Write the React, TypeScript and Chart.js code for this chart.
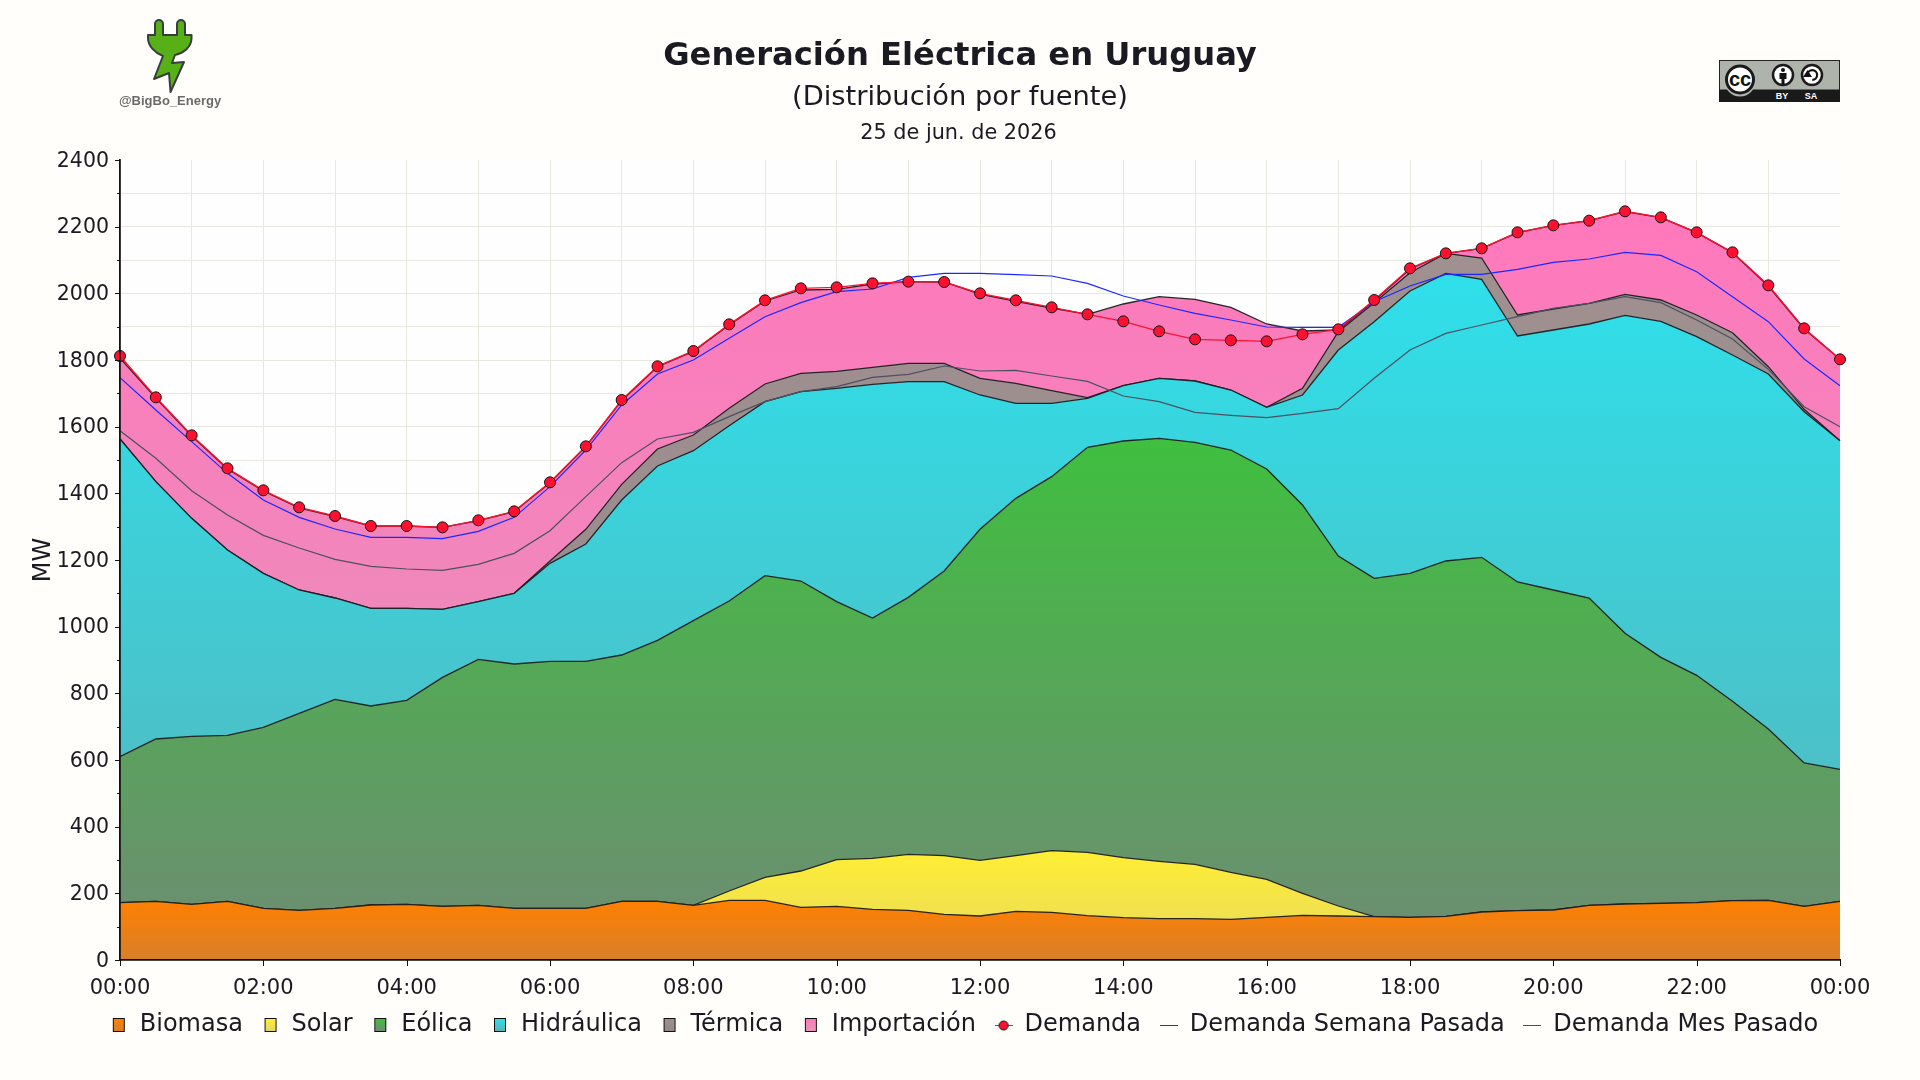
import { useEffect, useRef } from 'react';
import Chart from 'chart.js/auto';

// half-hour steps, 00:00 -> 00:00 of the next day
const hours = [
  '00:00', '00:30', '01:00', '01:30', '02:00', '02:30', '03:00', '03:30', '04:00', '04:30',
  '05:00', '05:30', '06:00', '06:30', '07:00', '07:30', '08:00', '08:30', '09:00', '09:30',
  '10:00', '10:30', '11:00', '11:30', '12:00', '12:30', '13:00', '13:30', '14:00', '14:30',
  '15:00', '15:30', '16:00', '16:30', '17:00', '17:30', '18:00', '18:30', '19:00', '19:30',
  '20:00', '20:30', '21:00', '21:30', '22:00', '22:30', '23:00', '23:30', '00:00',
];

// The area series are read as the height of each band's upper edge (MW)
const biomasa = [172, 176, 167, 176, 155, 149, 155, 165, 167, 161, 164, 155, 155, 155, 176, 176, 164, 179, 179, 158, 161, 152, 149, 137, 132, 146, 143, 133, 127, 124, 124, 122, 128, 134, 132, 130, 128, 131, 144, 148, 150, 164, 168, 170, 172, 178, 179, 161, 176];
const solar = [172, 176, 167, 176, 155, 149, 155, 165, 167, 161, 164, 155, 155, 155, 176, 176, 164, 207, 248, 267, 301, 305, 317, 313, 299, 313, 328, 323, 307, 296, 287, 263, 242, 200, 162, 130, 128, 131, 144, 148, 150, 164, 168, 170, 172, 178, 179, 161, 176];
const eolica = [610, 663, 671, 674, 698, 740, 782, 762, 779, 848, 902, 888, 896, 896, 915, 959, 1018, 1077, 1153, 1137, 1075, 1026, 1088, 1167, 1292, 1385, 1450, 1538, 1557, 1565, 1553, 1530, 1473, 1365, 1212, 1145, 1160, 1197, 1208, 1134, 1110, 1086, 980, 908, 854, 776, 693, 591, 572];
const hidraulica = [1563, 1435, 1325, 1230, 1160, 1110, 1086, 1055, 1055, 1052, 1075, 1100, 1190, 1248, 1380, 1482, 1528, 1603, 1675, 1705, 1715, 1727, 1735, 1735, 1695, 1670, 1670, 1685, 1723, 1745, 1737, 1710, 1658, 1695, 1830, 1915, 2007, 2060, 2042, 1872, 1890, 1908, 1934, 1916, 1870, 1815, 1758, 1645, 1558];
const termica = [1563, 1435, 1325, 1230, 1160, 1110, 1086, 1055, 1055, 1052, 1075, 1100, 1197, 1292, 1427, 1533, 1575, 1655, 1728, 1760, 1766, 1778, 1790, 1790, 1745, 1730, 1708, 1687, 1723, 1745, 1737, 1710, 1658, 1715, 1885, 1972, 2062, 2120, 2106, 1935, 1953, 1970, 1997, 1980, 1935, 1882, 1780, 1652, 1558];
const importacion = [1806, 1686, 1572, 1473, 1407, 1356, 1330, 1302, 1302, 1298, 1318, 1345, 1432, 1540, 1678, 1780, 1826, 1905, 1977, 2010, 2012, 2028, 2035, 2034, 1998, 1976, 1956, 1937, 1968, 1990, 1982, 1958, 1908, 1887, 1890, 1978, 2073, 2120, 2135, 2182, 2204, 2218, 2245, 2227, 2182, 2122, 2022, 1893, 1802];

const demanda = [1812, 1688, 1574, 1475, 1409, 1358, 1332, 1302, 1302, 1298, 1319, 1346, 1433, 1541, 1680, 1781, 1827, 1907, 1979, 2015, 2018, 2030, 2035, 2034, 2000, 1979, 1958, 1937, 1916, 1886, 1862, 1859, 1856, 1877, 1892, 1980, 2075, 2120, 2135, 2183, 2204, 2218, 2246, 2228, 2183, 2123, 2024, 1895, 1802];
const demandaSemana = [1747, 1650, 1555, 1460, 1380, 1328, 1293, 1268, 1268, 1264, 1286, 1328, 1420, 1530, 1665, 1758, 1800, 1865, 1930, 1972, 2005, 2013, 2048, 2060, 2060, 2056, 2052, 2030, 1992, 1965, 1940, 1920, 1899, 1898, 1898, 1975, 2022, 2057, 2057, 2072, 2093, 2103, 2123, 2114, 2065, 1990, 1915, 1803, 1723];
const demandaMes = [1588, 1505, 1408, 1335, 1274, 1236, 1202, 1181, 1173, 1169, 1187, 1220, 1288, 1390, 1492, 1563, 1583, 1630, 1675, 1705, 1720, 1748, 1757, 1782, 1767, 1769, 1752, 1736, 1692, 1675, 1643, 1634, 1627, 1640, 1654, 1745, 1830, 1880, 1905, 1930, 1955, 1970, 1990, 1972, 1920, 1863, 1772, 1660, 1600];

const PAGE_BG = '#fffefa';
const TEXT = '#1a1a22';
const EDGE = 'rgba(28,28,34,0.95)';
const RED = '#ff1030';
const BLUE = '#1c28ff';
const SLATE = '#4c5062';

Chart.defaults.font.family = '"DejaVu Sans"';

// vertical fill: stronger colour at the band's peak, greyer towards zero
function bandFill(top: string, bottom: string) {
  return (ctx: any) => {
    const { chart, dataset } = ctx;
    if (!chart.chartArea) return top;
    const y = chart.scales.y;
    const g = chart.ctx.createLinearGradient(0, y.getPixelForValue(Math.max(...dataset.data)), 0, y.getPixelForValue(0));
    g.addColorStop(0, top);
    g.addColorStop(1, bottom);
    return g;
  };
}

function band(label: string, data: number[], top: string, bottom: string, order: number, fill: string) {
  return {
    label, data, fill, order,
    backgroundColor: bandFill(top, bottom),
    borderColor: EDGE,
    borderWidth: 1.3,
    pointRadius: 0,
    tension: 0,
    swatch: [top, bottom],
  };
}

function legendIcon(ds: any) {
  const c = document.createElement('canvas');
  c.width = 18;
  c.height = 16;
  const g = c.getContext('2d')!;
  if (ds.swatch) {
    const grad = g.createLinearGradient(0, 2, 0, 14);
    grad.addColorStop(0, ds.swatch[0]);
    grad.addColorStop(1, ds.swatch[1]);
    g.fillStyle = grad;
    g.fillRect(3.5, 1.5, 11, 13);
    g.strokeStyle = '#111';
    g.strokeRect(3.5, 1.5, 11, 13);
  } else {
    g.strokeStyle = ds.borderColor;
    g.lineWidth = 1;
    g.beginPath();
    g.moveTo(0, 8.5);
    g.lineTo(18, 8.5);
    g.stroke();
    if (ds.pointRadius) {
      g.fillStyle = ds.pointBackgroundColor;
      g.strokeStyle = '#111';
      g.beginPath();
      g.arc(9, 8.5, 4.5, 0, Math.PI * 2);
      g.fill();
      g.stroke();
    }
  }
  return c;
}

// plot background, date line and the two lengths of tick marks
const decorations = {
  id: 'decorations',
  afterLayout(chart: any) {
    // the legend row sits a little right of centre
    chart.legend.left += 4;
    chart.legend.right += 4;
  },
  beforeDraw(chart: any) {
    const { ctx, chartArea: a } = chart;
    ctx.save();
    ctx.fillStyle = '#fffefe';
    ctx.fillRect(a.left, a.top, a.right - a.left, a.bottom - a.top);
    ctx.restore();
  },
  afterDraw(chart: any) {
    const { ctx, chartArea: a, scales } = chart;
    ctx.save();
    ctx.fillStyle = TEXT;
    ctx.font = '20.8px "DejaVu Sans"';
    ctx.textAlign = 'center';
    ctx.textBaseline = 'middle';
    ctx.fillText('25 de jun. de 2026', 958.5, 134);

    ctx.strokeStyle = '#111';
    ctx.lineWidth = 1;
    ctx.beginPath();
    scales.y.ticks.forEach((t: any, i: number) => {
      const p = Math.round(scales.y.getPixelForTick(i)) + 0.5;
      ctx.moveTo(a.left, p);
      ctx.lineTo(a.left - (t.value % 200 === 0 ? 5 : 3), p);
    });
    scales.x.ticks.forEach((_: any, i: number) => {
      if (i % 4 !== 0) return;
      const p = Math.round(scales.x.getPixelForTick(i)) + 0.5;
      ctx.moveTo(p, a.bottom);
      ctx.lineTo(p, a.bottom + 6);
    });
    ctx.stroke();
    ctx.restore();
  },
};

function PlugLogo() {
  return (
    <svg width="140" height="110" viewBox="100 10 140 110" style={{ position: 'absolute', left: 100, top: 10 }}>
      <path
        d="M155 35 V24 a4 4 0 0 1 8 0 V35 H177 V24 a4 4 0 0 1 8 0 V35 H191.5 V39 C191 47 184 53 175 55 L172 63 L184 62 L170.500 92 L169 73 L154 79 L163 56 C155 53 148 46 148 38 V35 Z"
        fill="#58b018"
        stroke="#3a3d40"
        strokeWidth="2"
        strokeLinejoin="round"
      />
      <text x="170" y="105" textAnchor="middle" fontFamily='"Liberation Sans"' fontWeight="bold" fontSize="13" fill="#6a6a6a">
        @BigBo_Energy
      </text>
    </svg>
  );
}

function CcBadge() {
  return (
    <svg width="122" height="44" viewBox="1719 60 122 44" style={{ position: 'absolute', left: 1719, top: 60 }}>
      <rect x="1719.5" y="60.5" width="120" height="41" fill="#aeb4ab" stroke="#222" />
      <rect x="1719" y="89.5" width="121" height="12.5" fill="#1a1a1a" />
      <circle cx="1740" cy="81" r="15.500" fill="#aeb4ab" />
      <circle cx="1740" cy="79.500" r="13.500" fill="#fff" stroke="#1a1a1a" strokeWidth="3" />
      <text x="1740" y="86" textAnchor="middle" fontFamily='"Liberation Sans"' fontWeight="bold" fontSize="20" fill="#111">cc</text>
      <circle cx="1783" cy="75" r="10" fill="#fff" stroke="#1a1a1a" strokeWidth="2.500" />
      <circle cx="1783" cy="70" r="2" fill="#111" />
      <path d="M1779.500 73 h7 v6 h-2 v5 h-3 v-5 h-2 z" fill="#111" />
      <circle cx="1812" cy="75" r="10" fill="#fff" stroke="#1a1a1a" strokeWidth="2.500" />
      <path d="M1807.500 75 a4.800 4.800 0 1 1 4.800 4.800 M1807.500 72 l-2.500 4 h5 z" fill="none" stroke="#111" strokeWidth="2.200" />
      <text x="1782" y="99" textAnchor="middle" fontFamily='"Liberation Sans"' fontWeight="bold" fontSize="9" fill="#fff">BY</text>
      <text x="1811" y="99" textAnchor="middle" fontFamily='"Liberation Sans"' fontWeight="bold" fontSize="9" fill="#fff">SA</text>
    </svg>
  );
}

export default function App() {
  const canvasRef = useRef<HTMLCanvasElement>(null);

  useEffect(() => {
    if (!canvasRef.current) return;

    const chart = new Chart(canvasRef.current, {
      type: 'line',
      plugins: [decorations],
      data: {
        labels: hours,
        datasets: [
          // lower bands are painted last so the band above does not cover their edge
          band('Biomasa', biomasa, '#ff8000', '#d87f2b', 3, 'origin'),
          band('Solar', solar, '#ffee33', '#e6d863', 4, '-1'),
          band('Eólica', eolica, '#3fbf3f', '#6f8b74', 5, '-1'),
          band('Hidráulica', hidraulica, '#2ee0ea', '#58b3ba', 6, '-1'),
          band('Térmica', termica, '#a09090', '#94888a', 7, '-1'),
          band('Importación', importacion, '#ff78bb', '#e396bb', 8, '-1'),
          {
            label: 'Demanda', data: demanda, order: 0, fill: false, clip: false,
            borderColor: RED, borderWidth: 1.4,
            pointRadius: 5.5, pointBackgroundColor: RED, pointBorderColor: '#111', pointBorderWidth: 1,
          },
          { label: 'Demanda Semana Pasada', data: demandaSemana, order: 1, fill: false, borderColor: BLUE, borderWidth: 1.2, pointRadius: 0 },
          { label: 'Demanda Mes Pasado', data: demandaMes, order: 2, fill: false, borderColor: SLATE, borderWidth: 1.2, pointRadius: 0 },
        ] as any,
      },
      options: {
        responsive: false,
        animation: false,
        layout: { padding: { bottom: 33 } },
        scales: {
          x: {
            offset: false,
            afterFit(s: any) { s.height = 34.4; },
            border: { color: '#111', width: 1.8, z: 1 },
            grid: {
              drawTicks: false,
              color: (c: any) => (c.index % 2 === 0 && c.index !== 48 ? '#e8e7e0' : 'transparent'),
            },
            ticks: {
              autoSkip: false,
              maxRotation: 0,
              padding: 16,
              color: TEXT,
              font: { size: 21 },
              callback: (_v: any, i: number) => (i % 4 === 0 ? hours[i] : ''),
            },
          },
          y: {
            min: 0,
            max: 2400,
            afterFit(s: any) { s.width = 120; },
            border: { color: '#111', width: 1.8, z: 1 },
            title: { display: true, text: 'MW', color: TEXT, font: { size: 24 }, padding: { top: 29, bottom: 0 } },
            grid: {
              drawTicks: false,
              color: (c: any) => (c.tick.value === 2400 ? 'transparent' : '#e8e7e0'),
            },
            ticks: {
              stepSize: 100,
              autoSkip: false,
              padding: 11,
              labelOffset: 1.5,
              color: TEXT,
              font: { size: 20.5 },
              callback: (v: any) => (v % 200 === 0 ? String(v) : ''),
            },
          },
          // empty axis, only keeps the margin on the right without moving the centred title
          pad: {
            type: 'linear',
            position: 'right',
            afterFit(s: any) { s.width = 80; },
            border: { display: false },
            grid: { display: false },
            ticks: { display: false },
          },
        } as any,
        plugins: {
          title: {
            display: true,
            text: 'Generación Eléctrica en Uruguay',
            color: TEXT,
            font: { size: 32.2, weight: 'bold', lineHeight: 1 },
            padding: { top: 41, bottom: 10.8 },
          },
          subtitle: {
            display: true,
            text: '(Distribución por fuente)',
            color: TEXT,
            font: { size: 27.3, weight: 'normal', lineHeight: 1 },
            padding: { top: 0, bottom: 48.7 },
          },
          legend: {
            position: 'bottom',
            labels: {
              usePointStyle: true,
              pointStyleWidth: 18,
              padding: 18.6,
              color: TEXT,
              font: { size: 24 },
              generateLabels: (c: any) =>
                c.data.datasets.map((ds: any, i: number) => ({
                  text: ds.label,
                  pointStyle: legendIcon(ds),
                  fontColor: TEXT,
                  lineWidth: 0,
                  hidden: false,
                  datasetIndex: i,
                })),
            },
          },
          tooltip: { enabled: false },
        },
      },
    });

    return () => {
      chart.destroy();
    };
  }, []);

  return (
    <div style={{ position: 'absolute', left: 0, top: 0, width: 1920, height: 1080, background: PAGE_BG, overflow: 'hidden' }}>
      <canvas ref={canvasRef} width={1920} height={1080} style={{ display: 'block' }} />
      <PlugLogo />
      <CcBadge />
    </div>
  );
}
